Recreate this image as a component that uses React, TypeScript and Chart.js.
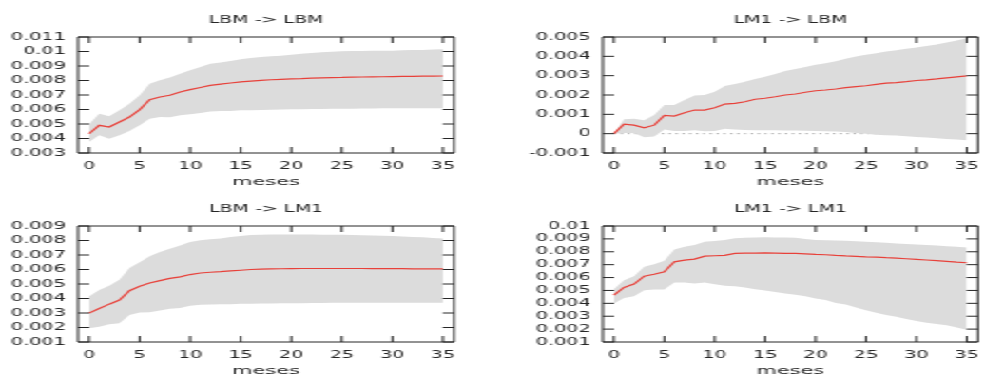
import React, { useEffect, useRef } from "react";
import { Chart, registerables } from "chart.js";

Chart.register(...registerables);

// Impulse responses (36 months) with confidence bands
const months = [
  0, 1, 2, 3, 4, 5, 6, 7, 8, 9, 10, 11, 12, 13, 14, 15, 16, 17,
  18, 19, 20, 21, 22, 23, 24, 25, 26, 27, 28, 29, 30, 31, 32, 33, 34, 35,
];
const xTicks = [0, 5, 10, 15, 20, 25, 30, 35];

// LBM -> LBM
const lbmLbmIrf = [
  0.00433, 0.00491, 0.00479, 0.00514, 0.00548, 0.00599, 0.00668, 0.00686, 0.00698,
  0.00721, 0.00737, 0.00752, 0.00766, 0.00775, 0.00783, 0.0079, 0.00796, 0.00801,
  0.00805, 0.00808, 0.00811, 0.00813, 0.00816, 0.00818, 0.0082, 0.00821, 0.00823,
  0.00824, 0.00825, 0.00826, 0.00827, 0.00828, 0.00829, 0.0083, 0.0083, 0.00831,
];
const lbmLbmUpper = [
  0.00498, 0.00571, 0.00553, 0.00594, 0.0064, 0.00698, 0.00778, 0.00801, 0.0082,
  0.00847, 0.0087, 0.00893, 0.00916, 0.00925, 0.00934, 0.00946, 0.00955, 0.00962,
  0.00967, 0.00971, 0.00978, 0.00985, 0.0099, 0.00994, 0.00999, 0.01001, 0.01003,
  0.01004, 0.01005, 0.01005, 0.01006, 0.01008, 0.0101, 0.01011, 0.01013, 0.01015,
];
const lbmLbmLower = [
  0.00376, 0.00422, 0.00399, 0.00422, 0.00452, 0.00491, 0.00537, 0.00548, 0.00546,
  0.0056, 0.00567, 0.00576, 0.00587, 0.00589, 0.0059, 0.00594, 0.00595, 0.00597,
  0.00598, 0.006, 0.00601, 0.00602, 0.00603, 0.00604, 0.00605, 0.00606, 0.00606,
  0.00607, 0.00607, 0.00608, 0.00608, 0.00608, 0.00608, 0.00608, 0.00608, 0.00608,
];
const lbmLbmTicks = [0.003, 0.004, 0.005, 0.006, 0.007, 0.008, 0.009, 0.01, 0.011];

// LM1 -> LBM
const lm1LbmIrf = [
  0, 0.00049, 0.00044, 0.0003, 0.00044, 0.00094, 0.00091, 0.00108, 0.00122,
  0.00122, 0.00134, 0.00153, 0.00157, 0.00165, 0.00178, 0.00183, 0.00191, 0.002,
  0.00205, 0.00214, 0.00222, 0.00226, 0.00231, 0.00238, 0.00243, 0.00248, 0.00255,
  0.00261, 0.00264, 0.00269, 0.00275, 0.00278, 0.00283, 0.00289, 0.00294, 0.00299,
];
const lm1LbmUpper = [
  0, 0.00075, 0.00077, 0.0007, 0.00096, 0.00148, 0.00148, 0.00174, 0.00197,
  0.002, 0.00217, 0.00247, 0.00257, 0.00269, 0.00283, 0.00295, 0.00309, 0.00324,
  0.00335, 0.00345, 0.00356, 0.00364, 0.00375, 0.00387, 0.00399, 0.00408, 0.00416,
  0.00425, 0.00432, 0.00439, 0.00446, 0.00453, 0.00461, 0.00472, 0.00482, 0.00493,
];
const lm1LbmLower = [
  0, 0.00004, 0.00004, -0.00018, -0.00015, 0.00021, 0.00014, 0.00014, 0.00018,
  0.00013, 0.00014, 0.00025, 0.00021, 0.00019, 0.00018, 0.00018, 0.00018, 0.00017,
  0.00016, 0.00015, 0.00014, 0.00012, 0.00011, 0.00008, 0.00004, -0.00001, -0.00005,
  -0.00008, -0.0001, -0.00013, -0.00017, -0.0002, -0.00024, -0.00027, -0.0003, -0.00034,
];
const lm1LbmTicks = [-0.001, 0, 0.001, 0.002, 0.003, 0.004, 0.005];
const zeroLine = [
  0, 0, 0, 0, 0, 0, 0, 0, 0, 0, 0, 0, 0, 0, 0, 0, 0, 0,
  0, 0, 0, 0, 0, 0, 0, 0, 0, 0, 0, 0, 0, 0, 0, 0, 0, 0,
];

// LBM -> LM1
const lbmLm1Irf = [
  0.00299, 0.00331, 0.00361, 0.00389, 0.00454, 0.00484, 0.00507, 0.00523, 0.00539,
  0.00549, 0.00565, 0.00576, 0.00581, 0.00585, 0.0059, 0.00595, 0.006, 0.00603,
  0.00604, 0.00605, 0.00606, 0.00607, 0.00607, 0.00607, 0.00607, 0.00607, 0.00607,
  0.00607, 0.00606, 0.00606, 0.00606, 0.00606, 0.00605, 0.00605, 0.00605, 0.00604,
];
const lbmLm1Upper = [
  0.00414, 0.00458, 0.00488, 0.0053, 0.00611, 0.0065, 0.00692, 0.0072, 0.00743,
  0.00766, 0.00789, 0.00801, 0.00808, 0.00814, 0.00824, 0.00831, 0.00838, 0.0084,
  0.00842, 0.00842, 0.00842, 0.00842, 0.00841, 0.0084, 0.0084, 0.00839, 0.00838,
  0.00837, 0.00835, 0.00833, 0.00831, 0.00828, 0.00825, 0.00822, 0.00818, 0.00814,
];
const lbmLm1Lower = [
  0.00195, 0.00206, 0.00223, 0.00229, 0.00287, 0.00303, 0.00306, 0.00317, 0.00329,
  0.00334, 0.0035, 0.00357, 0.00359, 0.0036, 0.00361, 0.00363, 0.00364, 0.00365,
  0.00366, 0.00367, 0.00368, 0.00368, 0.00369, 0.00369, 0.0037, 0.0037, 0.0037,
  0.0037, 0.0037, 0.0037, 0.0037, 0.0037, 0.0037, 0.0037, 0.0037, 0.0037,
];
const lbmLm1Ticks = [0.001, 0.002, 0.003, 0.004, 0.005, 0.006, 0.007, 0.008, 0.009];

// LM1 -> LM1
const lm1Lm1Irf = [
  0.00463, 0.00523, 0.00549, 0.00611, 0.00626, 0.00645, 0.00722, 0.00735, 0.00743,
  0.00766, 0.00769, 0.00772, 0.00787, 0.0079, 0.0079, 0.00792, 0.0079, 0.00788,
  0.00787, 0.00784, 0.0078, 0.00777, 0.00772, 0.00768, 0.00765, 0.00761, 0.00758,
  0.00754, 0.00751, 0.00746, 0.00741, 0.00736, 0.00731, 0.00726, 0.0072, 0.00715,
];
const lm1Lm1Upper = [
  0.0051, 0.0058, 0.00611, 0.00684, 0.00704, 0.0073, 0.00818, 0.00839, 0.00852,
  0.00878, 0.00883, 0.00891, 0.00904, 0.00908, 0.0091, 0.00912, 0.00911, 0.0091,
  0.00909, 0.009, 0.00891, 0.0089, 0.00888, 0.00885, 0.00882, 0.00878, 0.00874,
  0.0087, 0.00865, 0.00861, 0.00857, 0.00853, 0.00848, 0.00843, 0.00839, 0.00834,
];
const lm1Lm1Lower = [
  0.00398, 0.00442, 0.00455, 0.00502, 0.00507, 0.00507, 0.00562, 0.00562, 0.00554,
  0.00562, 0.00549, 0.00536, 0.00533, 0.00523, 0.0051, 0.00499, 0.00488, 0.00476,
  0.00466, 0.00455, 0.00437, 0.00425, 0.00403, 0.00391, 0.00368, 0.00346, 0.00327,
  0.0031, 0.00295, 0.00278, 0.00263, 0.0025, 0.0024, 0.0023, 0.00213, 0.00196,
];
const lm1Lm1Ticks = [0.001, 0.002, 0.003, 0.004, 0.005, 0.006, 0.007, 0.008, 0.009, 0.01];

const FONT = "'DejaVu Sans', 'Liberation Sans', sans-serif";
const INK = "#262626";
const BAND = "#dcdcdc";
const RED = "#e8413a";

// The figure is laid out on a narrower grid and stretched horizontally.
const GRID_W = 518;
const STRETCH = 985 / GRID_W;
const PANEL_W = 259;
const PANEL_H = 190;
const PLOT_TOP = 37;
const PLOT_BOTTOM = 153;
const TICK_LEN = 6;

const fmt = (v: number) => parseFloat(v.toFixed(4)).toString();
const pts = (ys: number[]) => months.map((m, i) => ({ x: m, y: ys[i] }));

// Closed frame with inward ticks on all four sides
const framePlugin = {
  id: "frame",
  afterDatasetsDraw(chart: any) {
    const { ctx, chartArea, scales } = chart;
    const { left, right, top, bottom } = chartArea;
    ctx.save();
    ctx.strokeStyle = INK;
    ctx.lineWidth = 1;
    ctx.beginPath();
    ctx.rect(left, top, right - left, bottom - top);
    for (const t of scales.x.ticks) {
      const px = scales.x.getPixelForValue(t.value);
      ctx.moveTo(px, bottom);
      ctx.lineTo(px, bottom - TICK_LEN);
      ctx.moveTo(px, top);
      ctx.lineTo(px, top + TICK_LEN);
    }
    for (const t of scales.y.ticks) {
      const py = scales.y.getPixelForValue(t.value);
      ctx.moveTo(left, py);
      ctx.lineTo(left + TICK_LEN, py);
      ctx.moveTo(right, py);
      ctx.lineTo(right - TICK_LEN, py);
    }
    ctx.stroke();
    ctx.restore();
  },
};

type PanelProps = {
  title: string;
  irf: number[];
  upper: number[];
  lower: number[];
  yTicks: number[];
  zero?: number[];
  left: number;
  top: number;
  plotLeft: number;
  plotRight: number;
};

function Panel(p: PanelProps) {
  const ref = useRef<HTMLCanvasElement>(null);

  useEffect(() => {
    const datasets: any[] = [
      { data: pts(p.irf), borderColor: RED, borderWidth: 1.2, pointRadius: 0, fill: false, order: 0 },
      {
        data: pts(p.upper),
        borderWidth: 0,
        borderColor: "rgba(0,0,0,0)",
        backgroundColor: BAND,
        fill: "+1",
        pointRadius: 0,
        order: 2,
      },
      { data: pts(p.lower), borderWidth: 0, borderColor: "rgba(0,0,0,0)", pointRadius: 0, fill: false, order: 1 },
    ];
    if (p.zero) {
      datasets.push({
        data: pts(p.zero),
        borderColor: "#a0a0a0",
        borderWidth: 1,
        borderDash: [1.2, 2.4],
        pointRadius: 0,
        fill: false,
        order: 3,
      });
    }
    const yMin = p.yTicks[0];
    const yMax = p.yTicks[p.yTicks.length - 1];
    const chart = new Chart(ref.current as HTMLCanvasElement, {
      type: "line",
      data: { datasets },
      options: {
        responsive: false,
        animation: false,
        events: [],
        layout: { padding: { left: 0, right: PANEL_W - p.plotRight, top: 0, bottom: 0 } },
        plugins: {
          legend: { display: false },
          tooltip: { enabled: false },
          title: {
            display: true,
            text: p.title,
            fullSize: false,
            color: INK,
            font: { family: FONT, size: 10, weight: "normal" },
            padding: { top: 14.3, bottom: 10.7 },
          },
        },
        scales: {
          x: {
            type: "linear",
            min: -1.1,
            max: 36.1,
            grid: { display: false, drawTicks: false },
            border: { display: false },
            afterBuildTicks: (s: any) => {
              s.ticks = xTicks.map((v) => ({ value: v }));
            },
            afterFit: (s: any) => {
              s.height = PANEL_H - PLOT_BOTTOM;
              s.paddingLeft = 0;
              s.paddingRight = 0;
            },
            ticks: {
              autoSkip: false,
              maxRotation: 0,
              padding: 7,
              color: INK,
              font: { family: FONT, size: 10 },
            },
            title: {
              display: true,
              text: "meses",
              color: INK,
              font: { family: FONT, size: 11 },
              padding: { top: 0, bottom: 1 },
            },
          },
          y: {
            type: "linear",
            min: yMin,
            max: yMax,
            grid: { display: false, drawTicks: false },
            border: { display: false },
            afterBuildTicks: (s: any) => {
              s.ticks = p.yTicks.map((v) => ({ value: v }));
            },
            afterFit: (s: any) => {
              s.width = p.plotLeft;
              s.paddingTop = 0;
              s.paddingBottom = 0;
            },
            ticks: {
              autoSkip: false,
              padding: 6.5,
              color: INK,
              font: { family: FONT, size: 10 },
              callback: (v: any) => fmt(Number(v)),
            },
          },
        },
      } as any,
      plugins: [framePlugin],
    });
    return () => chart.destroy();
  }, []);

  return (
    <div style={{ position: "absolute", left: p.left, top: p.top, width: PANEL_W, height: PANEL_H }}>
      <canvas
        ref={ref}
        width={PANEL_W}
        height={PANEL_H}
        style={{ display: "block", width: PANEL_W, height: PANEL_H }}
      />
    </div>
  );
}

export default function App() {
  return (
    <div
      style={{
        position: "fixed",
        left: 0,
        top: 0,
        width: GRID_W,
        height: 377,
        overflow: "hidden",
        background: "#ffffff",
        transform: `scaleX(${STRETCH})`,
        transformOrigin: "0 0",
      }}
    >
      <Panel
        title="LBM -> LBM"
        irf={lbmLbmIrf}
        upper={lbmLbmUpper}
        lower={lbmLbmLower}
        yTicks={lbmLbmTicks}
        left={0}
        top={0}
        plotLeft={41}
        plotRight={238.8}
      />
      <Panel
        title="LM1 -> LBM"
        irf={lm1LbmIrf}
        upper={lm1LbmUpper}
        lower={lm1LbmLower}
        yTicks={lm1LbmTicks}
        zero={zeroLine}
        left={PANEL_W}
        top={0}
        plotLeft={58}
        plotRight={255.3}
      />
      <Panel
        title="LBM -> LM1"
        irf={lbmLm1Irf}
        upper={lbmLm1Upper}
        lower={lbmLm1Lower}
        yTicks={lbmLm1Ticks}
        left={0}
        top={189}
        plotLeft={41}
        plotRight={238.8}
      />
      <Panel
        title="LM1 -> LM1"
        irf={lm1Lm1Irf}
        upper={lm1Lm1Upper}
        lower={lm1Lm1Lower}
        yTicks={lm1Lm1Ticks}
        left={PANEL_W}
        top={189}
        plotLeft={58}
        plotRight={255.3}
      />
    </div>
  );
}
